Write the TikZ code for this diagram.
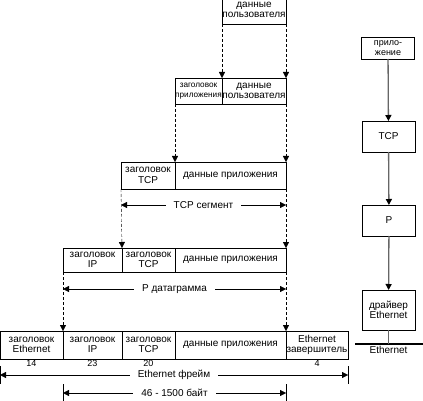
\documentclass[tikz,border=0pt]{standalone}
\usepackage{fontspec}
\setmainfont{Liberation Sans}
\usetikzlibrary{arrows.meta, positioning}
\tikzset{>={Triangle[length=6pt,width=6pt]}}
\tikzset{
  cell/.style={draw, inner sep=0pt, outer sep=0pt, minimum height=26pt, align=center, anchor=north west, font=\fontsize{10}{10.5}\selectfont},
  layer/.style={draw, inner sep=0pt, outer sep=0pt, minimum width=53pt, align=center, font=\fontsize{10}{10.5}\selectfont},
  down/.style={densely dashed, ->},
  flow/.style={gray!80!black, line width=1.3pt, -{Triangle[length=6pt,width=6pt,black]}},
  dim/.style={<->},
  lbl/.style={fill=white, inner xsep=8pt, inner ysep=1pt, font=\fontsize{10}{11}\selectfont},
  num/.style={inner sep=1pt, font=\fontsize{9}{10}\selectfont}
}
\begin{document}
\begin{tikzpicture}[x=1pt,y=-1pt]
\useasboundingbox (0,0) rectangle (423,401);
\node[cell, minimum width=64pt, minimum height=28pt] (ud) at (222,-4) {данные\\пользователя};
\node[cell, minimum width=47pt, font=\fontsize{8.2}{10.5}\selectfont] (aph) at (175,78) {заголовок\\приложения};
\node[cell, minimum width=64pt, right=0pt of aph] (aud) {данные\\пользователя};
\node[cell, minimum width=54pt, minimum height=27pt] (tcph) at (121,162) {заголовок\\TCP};
\node[cell, minimum width=111pt, minimum height=27pt, right=0pt of tcph] (appd) {данные приложения};
\node[cell, minimum width=59pt, minimum height=24pt] (iph) at (63,248) {заголовок\\IP};
\node[cell, minimum width=53pt, minimum height=24pt, right=0pt of iph] (iptcp) {заголовок\\TCP};
\node[cell, minimum width=111pt, minimum height=24pt, right=0pt of iptcp] (ipappd) {данные приложения};
\node[cell, minimum width=63pt, minimum height=28pt] (eeth) at (0,331) {заголовок\\Ethernet};
\node[cell, minimum width=59pt, minimum height=28pt, right=0pt of eeth] (eip) {заголовок\\IP};
\node[cell, minimum width=53pt, minimum height=28pt, right=0pt of eip] (etcp) {заголовок\\TCP};
\node[cell, minimum width=111pt, minimum height=28pt, right=0pt of etcp] (eappd) {данные приложения};
\node[cell, minimum width=62pt, minimum height=28pt, right=0pt of eappd] (etr) {Ethernet\\завершитель};
\node[num, below=0pt of eeth] {14};
\node[num, below=0pt of eip] {23};
\node[num, below=0pt of etcp] {20};
\node[num, below=0pt of etr] {4};
\draw[down] (ud.south west) -- (aph.north east);
\draw[down] (ud.south east) -- (aud.north east);
\draw[down] (aph.south west) -- (appd.north west);
\draw[down] (aud.south east) -- (appd.north east);
\draw[down] (tcph.south west) -- (iptcp.north west);
\draw[down] (appd.south east) -- (ipappd.north east);
\draw[down] (iph.south west) -- (eip.north west);
\draw[down] (ipappd.south east) -- (eappd.north east);
\draw[dim] ([yshift=-16pt]tcph.south west) -- ([yshift=-16pt]appd.south east) node[lbl, midway] {TCP сегмент};
\draw[dim] ([yshift=-17pt]iph.south west) -- ([yshift=-17pt]ipappd.south east) node[lbl, midway] {P датаграмма};
\draw (eeth.south west) ++(0,7) -- ++(0,18);
\draw (etr.south east) ++(0,7) -- ++(0,18);
\draw[dim] ([yshift=-16pt]eeth.south west) -- ([yshift=-16pt]etr.south east) node[lbl, midway] {Ethernet фрейм};
\draw (eip.south west) ++(0,25) -- ++(0,20);
\draw (eappd.south east) ++(0,25) -- ++(0,20);
\draw[dim] ([yshift=-34pt]eip.south west) -- ([yshift=-34pt]eappd.south east) node[lbl, midway] {46 - 1500 байт};
\node[layer, minimum height=22pt, font=\fontsize{9}{9.5}\selectfont] (app) at (388,48) {прило-\\жение};
\node[layer, minimum height=31pt] (tcp) at (388.5,136.5) {TCP};
\node[layer, minimum height=31pt] (ip) at (389,220.5) {P};
\node[layer, minimum height=40pt] (drv) at (388.5,310) {драйвер\\Ethernet};
\coordinate (bus) at (388.5,344);
\draw[line width=2.5pt] (355,344) -- (423,344);
\node[inner sep=1pt, font=\fontsize{10}{11}\selectfont, below=1pt of bus] (net) {Ethernet};
\draw[flow] (app) -- (tcp);
\draw[flow] (tcp) -- (ip);
\draw[flow] (ip) -- (drv);
\draw[gray!80!black, line width=1.3pt] (drv) -- (bus);
\end{tikzpicture}
\end{document}
